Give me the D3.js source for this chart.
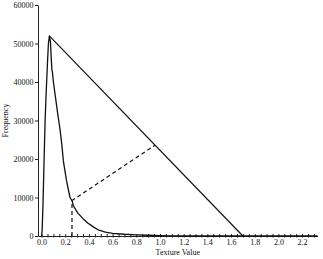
<!DOCTYPE html>
<html>
<head>
<meta charset="utf-8">
<script src="https://cdn.jsdelivr.net/npm/d3@7"></script>
<style>
  body { margin: 0; background: #fff; }
  text { font-family: "Liberation Serif", "Times New Roman", serif; fill: #111; }
</style>
</head>
<body>
<div id="container"></div>
<script>
// histogram of texture values
const texture = [0.0, 0.005, 0.012, 0.02, 0.03, 0.04, 0.05, 0.058, 0.066, 0.075, 0.082, 0.088, 0.092,
  0.1, 0.12, 0.14, 0.156, 0.172, 0.184, 0.21, 0.24, 0.257, 0.27, 0.305, 0.35, 0.39, 0.44, 0.485,
  0.54, 0.6, 0.7, 0.8, 0.9, 1.0, 1.1, 1.3, 2.33];
const frequency = [0, 1500, 8000, 18000, 30000, 38000, 45000, 50000, 52000, 50500, 46000, 43000, 42500,
  40000, 35500, 31000, 27700, 23500, 19500, 14500, 10000, 9200, 7800, 6000, 4500, 3400, 2300, 1500,
  1000, 700, 450, 300, 200, 100, 30, 0, 0];

// triangle threshold: peak -> end of histogram, and the longest perpendicular
const triangleX = [0.066, 1.7];
const triangleY = [52000, 0];
const thresholdX = [0.257, 0.257, 0.958];
const thresholdY = [0, 9200, 23600];

const xMajor = d3.range(0, 2.21, 0.2);
const xMinor = d3.range(0, 2.33, 0.05);
const yTicks = [0, 10000, 20000, 30000, 40000, 50000, 60000];

const width = 323, height = 259;
const margin = { top: 5, right: 5.5, bottom: 23, left: 38 };

const svg = d3.select("#container").append("svg")
  .attr("width", width).attr("height", height);

const x = d3.scaleLinear().domain([-0.03, 2.33]).range([margin.left, width - margin.right]);
const y = d3.scaleLinear().domain([0, 60000]).range([height - margin.bottom, margin.top]);

// y axis
const yAxis = svg.append("g")
  .attr("transform", `translate(${margin.left},0)`)
  .call(d3.axisLeft(y).tickValues(yTicks).tickSize(3).tickSizeOuter(0).tickFormat(d3.format("d")));
yAxis.selectAll("text").attr("font-size", 8).attr("x", -4.5);

// x axis
const fmt = d3.format(".1f");
const xAxis = svg.append("g")
  .attr("transform", `translate(0,${y(0)})`)
  .call(d3.axisBottom(x).tickValues(xMinor).tickSizeOuter(0)
    .tickFormat(d => xMajor.some(m => Math.abs(m - d) < 1e-6) ? fmt(d) : ""));
xAxis.selectAll(".tick line").attr("y1", -2).attr("y2", 1.5);
xAxis.selectAll("text").attr("font-size", 8).attr("y", 3);

svg.selectAll(".domain").attr("stroke", "#222");
svg.selectAll(".tick line").attr("stroke", "#222");

// histogram curve
const line = d3.line().x(d => x(d[0])).y(d => y(d[1]));
svg.append("path")
  .attr("d", line(d3.zip(texture, frequency)))
  .attr("fill", "none").attr("stroke", "#111").attr("stroke-width", 1.3)
  .attr("stroke-linejoin", "round");

// triangle line
svg.append("path")
  .attr("d", line(d3.zip(triangleX, triangleY)))
  .attr("fill", "none").attr("stroke", "#111").attr("stroke-width", 1.2);

// threshold distance (dashed)
svg.append("path")
  .attr("d", line(d3.zip(thresholdX, thresholdY)))
  .attr("fill", "none").attr("stroke", "#111").attr("stroke-width", 1.2)
  .attr("stroke-dasharray", "4,3");

// axis titles
svg.append("text")
  .attr("x", x(1.15)).attr("y", 255)
  .attr("text-anchor", "middle").attr("font-size", 8)
  .text("Texture Value");

svg.append("text")
  .attr("transform", `translate(8,${y(30000)}) rotate(-90)`)
  .attr("text-anchor", "middle").attr("font-size", 8)
  .text("Frequency");
</script>
</body>
</html>
